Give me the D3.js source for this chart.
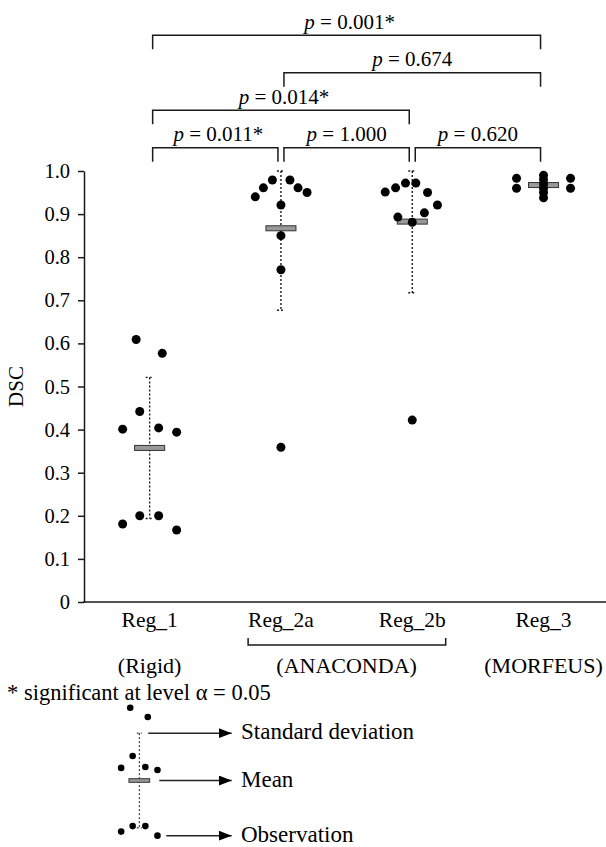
<!DOCTYPE html>
<html>
<head>
<meta charset="utf-8">
<script src="https://cdn.jsdelivr.net/npm/d3@7"></script>
<style>
	body { margin: 0; background: #fff; }
	svg text { font-family: "Liberation Serif", "DejaVu Serif", serif; fill: #000; }
</style>
</head>
<body>
<svg id="chart" width="606" height="847"></svg>
<script>
/*global d3 */
'use strict';

// groups on the x axis
var groups = ['Reg_1', 'Reg_2a', 'Reg_2b', 'Reg_3'];
var groupNotes = [
	{ label: '(Rigid)', from: 'Reg_1', to: 'Reg_1' },
	{ label: '(ANACONDA)', from: 'Reg_2a', to: 'Reg_2b' },
	{ label: '(MORFEUS)', from: 'Reg_3', to: 'Reg_3' }
];

// DSC observations per registration, with beeswarm slot (in dot widths)
var reg1 = [0.609, 0.577, 0.442, 0.401, 0.404, 0.394, 0.181, 0.200, 0.200, 0.167];
var reg1Slot = [-1.5, 1.4, -1.1, -3, 1, 3, -3, -1.1, 1, 3];
var reg2a = [0.940, 0.961, 0.979, 0.979, 0.961, 0.950, 0.921, 0.850, 0.771, 0.359];
var reg2aSlot = [-2.85, -1.95, -0.95, 1, 1.9, 2.9, 0, 0, 0, 0];
var reg2b = [0.951, 0.961, 0.972, 0.972, 0.950, 0.921, 0.893, 0.903, 0.881, 0.422];
var reg2bSlot = [-3, -1.85, -0.75, 0.4, 1.7, 2.8, -1.6, 1.35, 0, 0];
var reg3 = [0.983, 0.960, 0.983, 0.960, 0.990, 0.980, 0.970, 0.960, 0.950, 0.938];
var reg3Slot = [-3, -3, 3, 3, 0, 0, 0, 0, 0, 0];

var yTicks = [0, 0.1, 0.2, 0.3, 0.4, 0.5, 0.6, 0.7, 0.8, 0.9, 1.0];

// pairwise tests shown as brackets above the plot
var tests = [
	{ a: 'Reg_1', b: 'Reg_3', level: 3, p: '0.001*' },
	{ a: 'Reg_2a', b: 'Reg_3', level: 2, p: '0.674' },
	{ a: 'Reg_1', b: 'Reg_2b', level: 1, p: '0.014*' },
	{ a: 'Reg_1', b: 'Reg_2a', level: 0, p: '0.011*' },
	{ a: 'Reg_2a', b: 'Reg_2b', level: 0, p: '1.000' },
	{ a: 'Reg_2b', b: 'Reg_3', level: 0, p: '0.620' }
];

var legendLabels = ['Standard deviation', 'Mean', 'Observation'];
var footnote = '* significant at level \u03b1 = 0.05';

var series = [
	{ name: 'Reg_1', values: reg1, slots: reg1Slot },
	{ name: 'Reg_2a', values: reg2a, slots: reg2aSlot },
	{ name: 'Reg_2b', values: reg2b, slots: reg2bSlot },
	{ name: 'Reg_3', values: reg3, slots: reg3Slot }
];

var svg = d3.select('#chart');
var ink = '#1a1a1a';
var serif = '"Liberation Serif", "DejaVu Serif", serif';

var x_scale = d3.scaleBand().domain(groups).range([84, 609.2]);
var y_scale = d3.scaleLinear().domain([0, 1]).range([602, 171]);
function cx(g) { return x_scale(g) + x_scale.bandwidth() / 2; }

// summary stats (mean and SD, clipped to the axis range)
series.forEach(function (s) {
	s.mean = d3.mean(s.values);
	s.sd = d3.deviation(s.values);
	s.hi = Math.min(1, s.mean + s.sd);
	s.lo = Math.max(0, s.mean - s.sd);
	s.points = s.values.map(function (v, i) { return { v: v, slot: s.slots[i] }; });
});

// Draw one dot plot (SD whisker, mean bar, observations)
function plotGroup(layer, s, xc, ys, opt) {
	var g = layer.append('g');
	g.append('line')
		.attr('x1', xc).attr('x2', xc)
		.attr('y1', ys(s.hi)).attr('y2', ys(s.lo))
		.attr('stroke', ink).attr('stroke-width', opt.sdWidth)
		.attr('stroke-dasharray', '2,2');
	[s.hi, s.lo].forEach(function (v) {
		g.append('line')
			.attr('x1', xc - opt.cap).attr('x2', xc + opt.cap)
			.attr('y1', ys(v)).attr('y2', ys(v))
			.attr('stroke', ink).attr('stroke-width', opt.sdWidth)
			.attr('stroke-dasharray', '2,2');
	});
	g.append('rect')
		.attr('x', xc - opt.barW / 2).attr('y', ys(s.mean) - opt.barH / 2)
		.attr('width', opt.barW).attr('height', opt.barH)
		.attr('fill', '#999').attr('stroke', '#333').attr('stroke-width', 1);
	g.selectAll('circle')
		.data(s.points)
		.enter().append('circle')
		.attr('cx', function (d) { return xc + d.slot * opt.step; })
		.attr('cy', function (d) { return ys(d.v); })
		.attr('r', opt.r)
		.attr('fill', '#000');
}

// Y axis
var yAxis = svg.append('g')
	.attr('transform', 'translate(84,0)')
	.call(d3.axisLeft(y_scale)
		.tickValues(yTicks)
		.tickFormat(function (d) { return d === 0 ? '0' : d3.format('.1f')(d); })
		.tickSize(6).tickSizeOuter(0).tickPadding(8));
yAxis.attr('font-family', serif);
yAxis.selectAll('path, line').attr('stroke', ink).attr('stroke-width', 1.5);
yAxis.selectAll('text').style('font-size', '20.5px').attr('fill', '#000');

svg.append('text')
	.attr('transform', 'translate(23,' + y_scale(0.5) + ') rotate(-90)')
	.attr('text-anchor', 'middle')
	.style('font-size', '21px')
	.text('DSC');

// X axis
svg.append('line')
	.attr('x1', 83.25).attr('x2', 606)
	.attr('y1', y_scale(0)).attr('y2', y_scale(0))
	.attr('stroke', ink).attr('stroke-width', 1.5);

var catLabels = svg.append('g').selectAll('text')
	.data(groups)
	.enter().append('text')
	.attr('x', cx)
	.attr('y', 627)
	.attr('text-anchor', 'middle')
	.style('font-size', '21.5px')
	.text(function (d) { return d; });

// Bracket grouping Reg_2a and Reg_2b under their labels
var boxes = {};
catLabels.each(function (d) { boxes[d] = this.getBBox(); });
var bl = boxes.Reg_2a.x, br = boxes.Reg_2b.x + boxes.Reg_2b.width;
svg.append('path')
	.attr('d', 'M' + bl + ',638V645H' + br + 'V638')
	.attr('fill', 'none').attr('stroke', ink).attr('stroke-width', 1.5);

svg.append('g').selectAll('text')
	.data(groupNotes)
	.enter().append('text')
	.attr('x', function (d) { return (cx(d.from) + cx(d.to)) / 2; })
	.attr('y', 673)
	.attr('text-anchor', 'middle')
	.style('font-size', '22px')
	.text(function (d) { return d.label; });

svg.append('text')
	.attr('x', 7).attr('y', 700)
	.style('font-size', '22.5px')
	.text(footnote);

// Significance brackets
var brk = svg.append('g');
tests.forEach(function (t) {
	var x1 = cx(t.a) + 3, x2 = cx(t.b) - 3;
	var yb = 147.7 - t.level * 37.5;
	brk.append('path')
		.attr('d', 'M' + x1 + ',' + (yb + 14) + 'V' + yb + 'H' + x2 + 'V' + (yb + 14))
		.attr('fill', 'none').attr('stroke', ink).attr('stroke-width', 1.5);
	var txt = brk.append('text')
		.attr('x', (x1 + x2) / 2 + (t.p.indexOf('*') >= 0 ? 3 : 0))
		.attr('y', yb - 6.5)
		.attr('text-anchor', 'middle')
		.style('font-size', '21px');
	txt.append('tspan').style('font-style', 'italic').text('p');
	txt.append('tspan').text(' = ' + t.p);
});

// Data
var plotLayer = svg.append('g');
series.forEach(function (s) {
	plotGroup(plotLayer, s, cx(s.name), y_scale,
		{ r: 4.5, step: 9, barW: 30, barH: 5, cap: 4, sdWidth: 1.4 });
});

// Legend: the Reg_1 dot plot drawn small, with arrows to its parts
var legend_y = d3.scaleLinear().domain([0, 1]).range([884, 594.5]);
var lx = 139.3;
var legendLayer = svg.append('g');
plotGroup(legendLayer, series[0], lx, legend_y,
	{ r: 3.3, step: 6.05, barW: 20.7, barH: 3.6, cap: 2.5, sdWidth: 1 });

svg.append('defs').append('marker')
	.attr('id', 'arrowhead')
	.attr('viewBox', '0 0 13 10')
	.attr('refX', 13).attr('refY', 5)
	.attr('markerWidth', 13).attr('markerHeight', 10)
	.attr('markerUnits', 'userSpaceOnUse')
	.attr('orient', 'auto')
	.append('path').attr('d', 'M0,0L13,5L0,10Z').attr('fill', '#000');

var s1 = series[0];
var legendRows = [
	{ label: legendLabels[0], y: legend_y(s1.hi), x0: lx + 9 },
	{ label: legendLabels[1], y: legend_y(s1.mean), x0: lx + 20 },
	{ label: legendLabels[2], y: legend_y(d3.min(s1.values)), x0: lx + 27 }
];
var rows = svg.append('g').selectAll('g')
	.data(legendRows)
	.enter().append('g');
rows.append('line')
	.attr('x1', function (d) { return d.x0; })
	.attr('x2', 231.7)
	.attr('y1', function (d) { return d.y; })
	.attr('y2', function (d) { return d.y; })
	.attr('stroke', '#222').attr('stroke-width', 1.5)
	.attr('marker-end', 'url(#arrowhead)');
rows.append('text')
	.attr('x', 241)
	.attr('y', function (d) { return d.y; })
	.attr('dy', '0.27em')
	.style('font-size', '23px')
	.text(function (d) { return d.label; });
</script>
</body>
</html>
